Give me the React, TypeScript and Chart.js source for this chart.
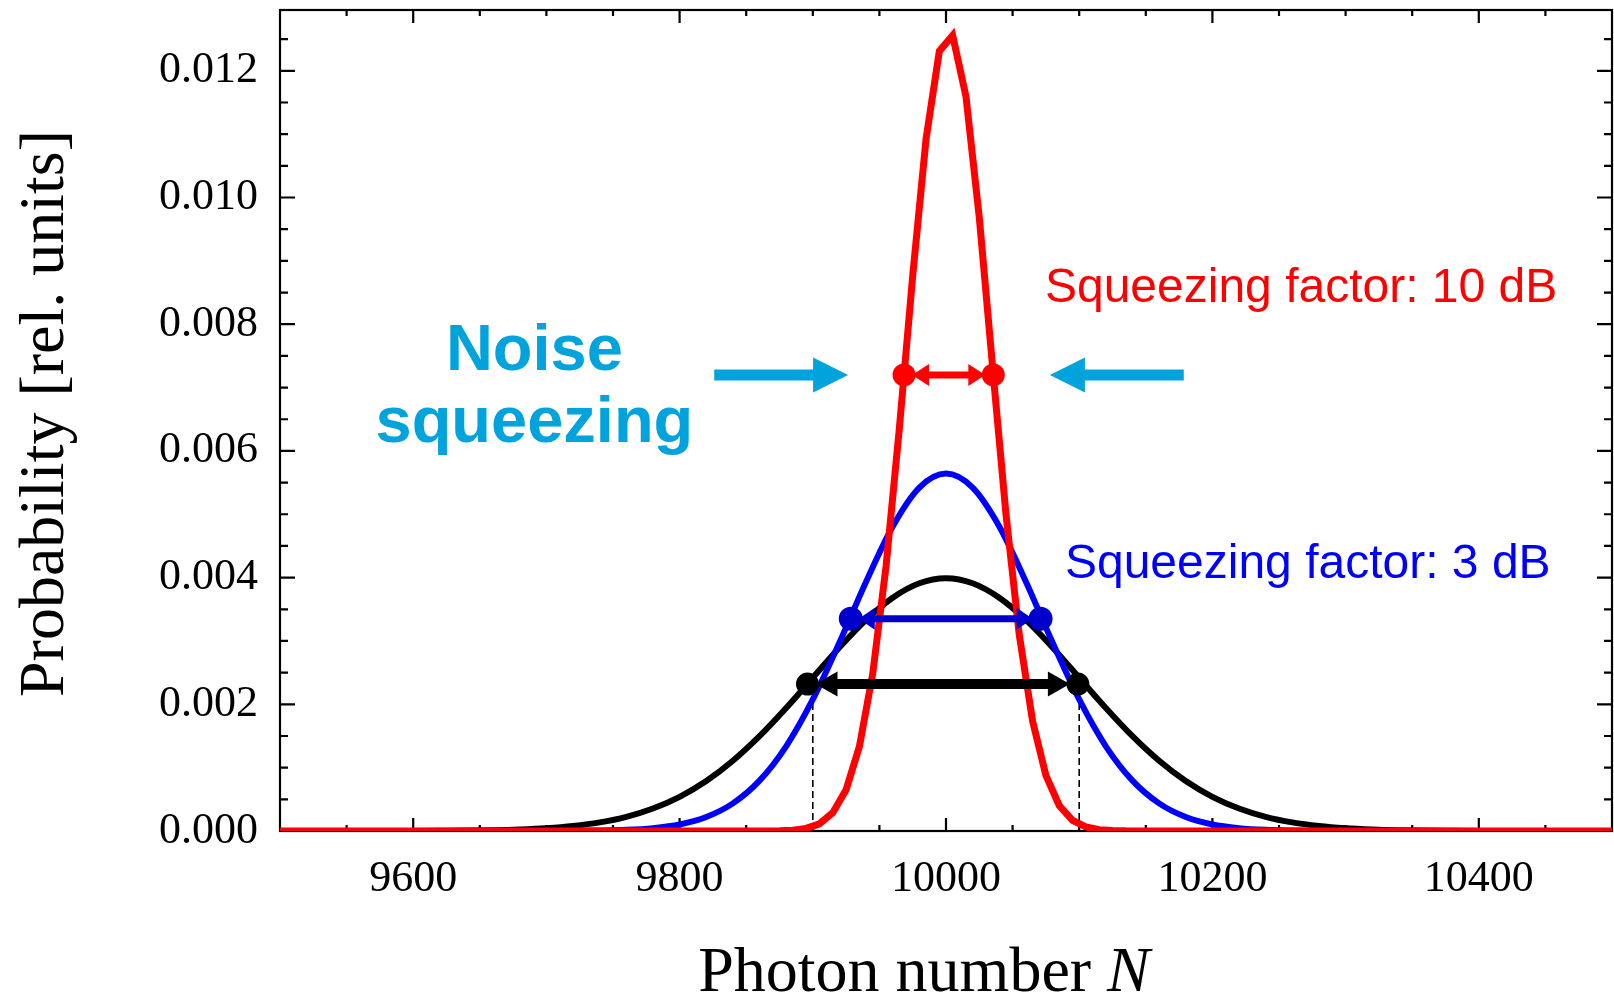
import React, { useEffect, useRef } from "react";
import { Chart, registerables } from "chart.js";

Chart.register(...registerables);

// ---- axes ----
const X_MIN = 9500;
const X_MAX = 10500;
const Y_MIN = 0;
const Y_MAX = 0.01296;
const xMajorTicks = [9600, 9800, 10000, 10200, 10400];
const xMinorTicks = [9550, 9650, 9700, 9750, 9850, 9900, 9950, 10050, 10100, 10150, 10250, 10300, 10350, 10450];
const yMajorTicks = [0, 0.002, 0.004, 0.006, 0.008, 0.01, 0.012];
const yMinorTicks = [0.0005, 0.001, 0.0015, 0.0025, 0.003, 0.0035, 0.0045, 0.005, 0.0055, 0.0065, 0.007, 0.0075, 0.0085, 0.009, 0.0095, 0.0105, 0.011, 0.0115, 0.0125];

// ---- series ----
const gridX = [
  9500, 9520, 9540, 9560, 9580, 9600, 9620, 9640, 9660, 9680,
  9700, 9720, 9740, 9760, 9780, 9800, 9820, 9840, 9860, 9880,
  9900, 9920, 9940, 9960, 9980, 10000, 10020, 10040, 10060, 10080,
  10100, 10120, 10140, 10160, 10180, 10200, 10220, 10240, 10260, 10280,
  10300, 10320, 10340, 10360, 10380, 10400, 10420, 10440, 10460, 10480, 10500,
];
const coherentY = [
  0, 0, 0, 0, 0, 0.000001, 0.000003, 0.000006, 0.000012, 0.000024,
  0.000044, 0.000079, 0.000136, 0.000224, 0.000355, 0.00054, 0.000789, 0.001109, 0.001497, 0.001942,
  0.00242, 0.002897, 0.003332, 0.003682, 0.00391, 0.003989, 0.00391, 0.003682, 0.003332, 0.002897,
  0.00242, 0.001942, 0.001497, 0.001109, 0.000789, 0.00054, 0.000355, 0.000224, 0.000136, 0.000079,
  0.000044, 0.000024, 0.000012, 0.000006, 0.000003, 0.000001, 0, 0, 0, 0, 0,
];
const squeezed3dBY = [
  0, 0, 0, 0, 0, 0, 0, 0, 0, 0,
  0.000001, 0.000002, 0.000007, 0.000018, 0.000045, 0.000103, 0.000221, 0.000436, 0.000795, 0.001337,
  0.002076, 0.002975, 0.003936, 0.004808, 0.005421, 0.005642, 0.005421, 0.004808, 0.003936, 0.002975,
  0.002076, 0.001337, 0.000795, 0.000436, 0.000221, 0.000103, 0.000045, 0.000018, 0.000007, 0.000002,
  0.000001, 0, 0, 0, 0, 0, 0, 0, 0, 0, 0,
];
const squeezed10dBX = [
  9500, 9865, 9875, 9885, 9895, 9905, 9915, 9925, 9935, 9945, 9955, 9965, 9975, 9985, 9995,
  10005, 10015, 10025, 10035, 10045, 10055, 10065, 10075, 10085, 10095, 10105, 10115, 10125, 10135, 10500,
];
const squeezed10dBY = [
  0, 0.000001, 0.000004, 0.000013, 0.000041, 0.000114, 0.000287, 0.000651, 0.001337, 0.002485, 0.004181, 0.006362, 0.008762, 0.010919, 0.012311,
  0.012559, 0.011594, 0.009684, 0.007319, 0.005005, 0.003097, 0.001734, 0.000878, 0.000403, 0.000167, 0.000063, 0.000021, 0.000007, 0.000002, 0,
];

// ---- width markers ----
const redMarkX = [9968.5, 10035.5];
const redMarkY = 0.0072;
const blueMarkX = [9928.5, 10071];
const blueMarkY = 0.00335;
const blackMarkX = [9896, 10099];
const blackMarkY = 0.00232;
const dashedX = [9900, 10100];

// ---- annotations (data coordinates) ----
const noiseLabel = ["Noise", "squeezing"];
const noiseLabelX = [9691, 9691];
const noiseLabelY = [0.00728, 0.00614];
const cyanArrowLeft = [9826, 9926.5];
const cyanArrowRight = [10178.5, 10078];
const cyanArrowY = 0.0072;
const label10dB = "Squeezing factor: 10 dB";
const label10dBPos = [10074.3, 0.00835];
const label3dB = "Squeezing factor: 3 dB";
const label3dBPos = [10089.3, 0.00399];

const RED = "#ff0000";
const BLUE = "#0000ff";
const BLUE_MARK = "#0000cc";
const CYAN = "#00a3dc";
const SERIF = "'Liberation Serif', 'Times New Roman', serif";
const SANS = "'Liberation Sans', Arial, sans-serif";

function pts(xs: number[], ys: number[]) {
  return xs.map((x, i) => ({ x, y: ys[i] }));
}

function doubleArrow(ctx: CanvasRenderingContext2D, x1: number, x2: number, y: number, color: string, lw: number, hl: number, hh: number) {
  const t1 = x1 + 8;
  const t2 = x2 - 8;
  ctx.save();
  ctx.strokeStyle = color;
  ctx.fillStyle = color;
  ctx.lineWidth = lw;
  ctx.beginPath();
  ctx.moveTo(t1 + hl - 1, y);
  ctx.lineTo(t2 - hl + 1, y);
  ctx.stroke();
  ctx.beginPath();
  ctx.moveTo(t1, y);
  ctx.lineTo(t1 + hl, y - hh);
  ctx.lineTo(t1 + hl, y + hh);
  ctx.closePath();
  ctx.fill();
  ctx.beginPath();
  ctx.moveTo(t2, y);
  ctx.lineTo(t2 - hl, y - hh);
  ctx.lineTo(t2 - hl, y + hh);
  ctx.closePath();
  ctx.fill();
  ctx.restore();
}

function blockArrow(ctx: CanvasRenderingContext2D, tail: number, tip: number, y: number, color: string) {
  const dir = tip > tail ? 1 : -1;
  const hl = 35;
  const hh = 17.5;
  const sh = 5.5;
  ctx.save();
  ctx.fillStyle = color;
  ctx.beginPath();
  ctx.moveTo(tail, y - sh);
  ctx.lineTo(tip - dir * hl, y - sh);
  ctx.lineTo(tip - dir * hl, y - hh);
  ctx.lineTo(tip, y);
  ctx.lineTo(tip - dir * hl, y + hh);
  ctx.lineTo(tip - dir * hl, y + sh);
  ctx.lineTo(tail, y + sh);
  ctx.closePath();
  ctx.fill();
  ctx.restore();
}

const decoPlugin = {
  id: "deco",
  beforeDatasetsDraw(chart: any) {
    const { ctx, chartArea: a, scales } = chart;
    const xs = scales.x;
    const ys = scales.y;
    ctx.save();
    ctx.strokeStyle = "#000";
    ctx.lineWidth = 2.2;
    ctx.strokeRect(a.left, a.top, a.right - a.left, a.bottom - a.top);
    ctx.beginPath();
    const xt = (list: number[], len: number) => {
      for (const v of list) {
        const p = xs.getPixelForValue(v);
        ctx.moveTo(p, a.bottom);
        ctx.lineTo(p, a.bottom - len);
        ctx.moveTo(p, a.top);
        ctx.lineTo(p, a.top + len);
      }
    };
    const yt = (list: number[], len: number) => {
      for (const v of list) {
        const p = ys.getPixelForValue(v);
        ctx.moveTo(a.left, p);
        ctx.lineTo(a.left + len, p);
        ctx.moveTo(a.right, p);
        ctx.lineTo(a.right - len, p);
      }
    };
    xt(xMajorTicks, 13);
    xt(xMinorTicks, 6);
    yt(yMajorTicks, 15);
    yt(yMinorTicks, 8);
    ctx.stroke();

    ctx.setLineDash([7, 4]);
    ctx.lineWidth = 1.6;
    ctx.beginPath();
    for (const v of dashedX) {
      const p = xs.getPixelForValue(v);
      ctx.moveTo(p, ys.getPixelForValue(0));
      ctx.lineTo(p, ys.getPixelForValue(blackMarkY));
    }
    ctx.stroke();
    ctx.restore();
  },
  afterDatasetsDraw(chart: any) {
    const { ctx, chartArea: a, scales } = chart;
    const xs = scales.x;
    const ys = scales.y;
    const px = (v: number) => xs.getPixelForValue(v);
    const py = (v: number) => ys.getPixelForValue(v);

    doubleArrow(ctx, px(redMarkX[0]), px(redMarkX[1]), py(redMarkY), RED, 7, 17, 11);
    doubleArrow(ctx, px(blueMarkX[0]), px(blueMarkX[1]), py(blueMarkY), BLUE_MARK, 7, 16, 11);
    doubleArrow(ctx, px(blackMarkX[0]), px(blackMarkX[1]), py(blackMarkY), "#000", 10, 22, 12.5);

    blockArrow(ctx, px(cyanArrowLeft[0]), px(cyanArrowLeft[1]), py(cyanArrowY), CYAN);
    blockArrow(ctx, px(cyanArrowRight[0]), px(cyanArrowRight[1]), py(cyanArrowY), CYAN);

    ctx.save();
    ctx.textBaseline = "alphabetic";
    ctx.fillStyle = CYAN;
    ctx.font = `bold 65px ${SANS}`;
    ctx.textAlign = "center";
    noiseLabel.forEach((t, i) => ctx.fillText(t, px(noiseLabelX[i]), py(noiseLabelY[i])));

    ctx.textAlign = "left";
    ctx.font = `48px ${SANS}`;
    ctx.fillStyle = RED;
    ctx.fillText(label10dB, px(label10dBPos[0]), py(label10dBPos[1]));
    ctx.fillStyle = BLUE;
    ctx.fillText(label3dB, px(label3dBPos[0]), py(label3dBPos[1]));

    // axis titles
    ctx.fillStyle = "#000";
    ctx.font = `64px ${SERIF}`;
    const t1 = "Photon number ";
    const w1 = ctx.measureText(t1).width;
    ctx.font = `italic 64px ${SERIF}`;
    const w2 = ctx.measureText("N").width;
    const cx = (a.left + a.right) / 2 - 22;
    const startX = cx - (w1 + w2) / 2;
    ctx.font = `64px ${SERIF}`;
    ctx.fillText(t1, startX, 991);
    ctx.font = `italic 64px ${SERIF}`;
    ctx.fillText("N", startX + w1, 991);

    ctx.translate(a.left - 234, (a.top + a.bottom) / 2 - 7);
    ctx.rotate(-Math.PI / 2);
    ctx.font = `64px ${SERIF}`;
    ctx.textAlign = "center";
    ctx.textBaseline = "middle";
    ctx.fillText("Probability [rel. units]", 0, 0);
    ctx.restore();
  },
};

export default function App() {
  const ref = useRef<HTMLCanvasElement | null>(null);
  useEffect(() => {
    if (!ref.current) return;
    const markerDs = (xs: number[], y: number, color: string, r: number) => ({
      type: "scatter" as const,
      data: xs.map((x) => ({ x, y })),
      backgroundColor: color,
      borderColor: color,
      pointRadius: r,
      pointBorderWidth: 0,
      showLine: false,
      order: 0,
    });
    const chart = new Chart(ref.current, {
      type: "line",
      data: {
        datasets: [
          {
            label: "Coherent",
            data: pts(gridX, coherentY),
            borderColor: "#000",
            borderWidth: 6,
            pointRadius: 0,
            cubicInterpolationMode: "monotone",
            order: 3,
          },
          {
            label: "3 dB",
            data: pts(gridX, squeezed3dBY),
            borderColor: BLUE,
            borderWidth: 6,
            pointRadius: 0,
            cubicInterpolationMode: "monotone",
            order: 2,
          },
          {
            label: "10 dB",
            data: pts(squeezed10dBX, squeezed10dBY),
            borderColor: RED,
            borderWidth: 7,
            pointRadius: 0,
            tension: 0,
            order: 1,
          },
          markerDs(redMarkX, redMarkY, RED, 11.5),
          markerDs(blueMarkX, blueMarkY, BLUE_MARK, 12),
          markerDs(blackMarkX, blackMarkY, "#000", 11.5),
        ] as any,
      },
      options: {
        animation: false,
        responsive: false,
        devicePixelRatio: 1,
        parsing: false as any,
        layout: { autoPadding: false, padding: { top: 10, right: 2, left: 0, bottom: 0 } },
        plugins: { legend: { display: false }, tooltip: { enabled: false }, title: { display: false } },
        scales: {
          x: {
            type: "linear",
            min: X_MIN,
            max: X_MAX,
            grid: { display: false, drawTicks: false },
            border: { display: false },
            afterBuildTicks: (s: any) => {
              s.ticks = xMajorTicks.map((v) => ({ value: v }));
            },
            afterFit: (s: any) => {
              s.height = 165;
              s.paddingLeft = 0;
              s.paddingRight = 0;
              s.paddingTop = 0;
              s.paddingBottom = 0;
            },
            ticks: {
              autoSkip: false,
              maxRotation: 0,
              padding: 22,
              color: "#000",
              font: { family: SERIF, size: 44 },
              callback: (v: any) => String(v),
            },
          },
          y: {
            type: "linear",
            min: Y_MIN,
            max: Y_MAX,
            grid: { display: false, drawTicks: false },
            border: { display: false },
            afterBuildTicks: (s: any) => {
              s.ticks = yMajorTicks.map((v) => ({ value: v }));
            },
            afterFit: (s: any) => {
              s.width = 280;
              s.paddingLeft = 0;
              s.paddingRight = 0;
              s.paddingTop = 0;
              s.paddingBottom = 0;
            },
            ticks: {
              autoSkip: false,
              padding: 22,
              color: "#000",
              font: { family: SERIF, size: 44 },
              callback: (v: any) => Number(v).toFixed(3),
            },
          },
        },
      },
      plugins: [decoPlugin],
    });
    return () => chart.destroy();
  }, []);

  return (
    <div style={{ position: "fixed", left: 0, top: 0, width: 1614, height: 996, background: "#fff" }}>
      <canvas ref={ref} width={1614} height={996} style={{ display: "block", width: 1614, height: 996 }} />
    </div>
  );
}
